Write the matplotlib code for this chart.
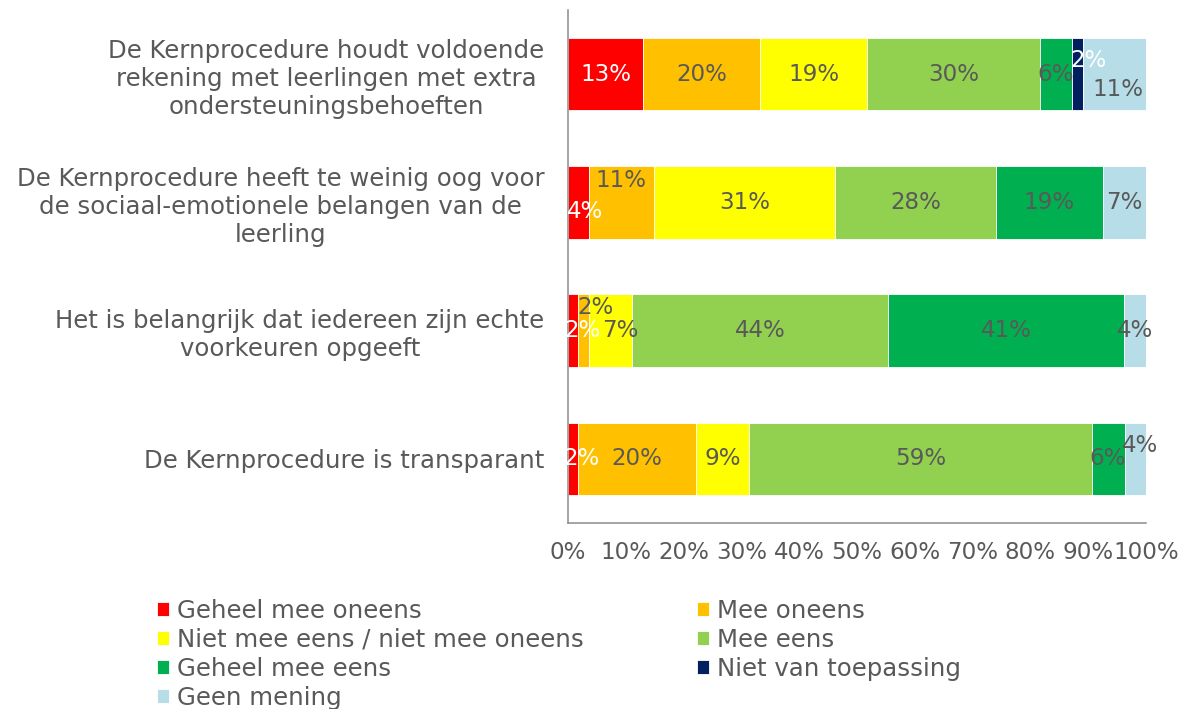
import matplotlib
matplotlib.use("Agg")
import matplotlib.pyplot as plt
import numpy as np

# ---------------- data ----------------
categories = [
    "De Kernprocedure houdt voldoende\nrekening met leerlingen met extra\nondersteuningsbehoeften",
    "De Kernprocedure heeft te weinig oog voor\nde sociaal-emotionele belangen van de\nleerling",
    "Het is belangrijk dat iedereen zijn echte\nvoorkeuren opgeeft",
    "De Kernprocedure is transparant",
]
series_names = [
    "Geheel mee oneens",
    "Mee oneens",
    "Niet mee eens / niet mee oneens",
    "Mee eens",
    "Geheel mee eens",
    "Niet van toepassing",
    "Geen mening",
]
geheel_oneens = [13.0, 3.6, 1.7, 1.7]
mee_oneens = [20.2, 11.2, 2.0, 20.4]
neutraal = [18.6, 31.4, 7.3, 9.3]
mee_eens = [29.8, 27.8, 44.4, 59.2]
geheel_eens = [5.6, 18.6, 40.8, 5.7]
niet_van_toepassing = [1.9, 0.0, 0.0, 0.0]
geen_mening = [10.9, 7.4, 3.8, 3.7]
series_values = [geheel_oneens, mee_oneens, neutraal, mee_eens,
                 geheel_eens, niet_van_toepassing, geen_mening]
xticks = [0, 10, 20, 30, 40, 50, 60, 70, 80, 90, 100]

# ---------------- style ----------------
colors = ["#FF0000", "#FFC000", "#FFFF00", "#92D050", "#00B050", "#002060", "#B7DEE8"]
label_colors = ["white", "#595959", "#595959", "#595959", "#595959", "white", "#595959"]
txt = "#595959"
fs_num = 16.6
fs_txt = 17.6
# label offsets in pixels (series index, row index) -> (dx, dy)
offsets = {
    (5, 0): (11, 14), (6, 0): (3, -15),
    (0, 1): (7, -9), (1, 1): (0, 22),
    (0, 2): (10, 0), (1, 2): (12, 23), (2, 2): (10, 0),
    (0, 3): (9, 0), (6, 3): (5, 13),
}

plt.rcParams['font.family'] = ['DejaVu Sans']
fig = plt.figure(figsize=(11.9, 7.09), dpi=100)
ax = fig.add_axes([0.4773, 0.2623, 0.4857, 0.7236])

y = np.arange(len(categories))
left = np.zeros(len(categories))
handles = []
for si, (name, vals) in enumerate(zip(series_names, series_values)):
    vals = np.array(vals)
    bars = ax.barh(y, vals, left=left, height=0.566, color=colors[si],
                   edgecolor="white", linewidth=0.6, label=name)
    handles.append(bars)
    for ri, v in enumerate(vals):
        if v <= 0:
            continue
        dx, dy = offsets.get((si, ri), (0, 0))
        ax.annotate(f"{v:.0f}%", (left[ri] + v / 2, y[ri]),
                    xytext=(dx, dy), textcoords="offset pixels",
                    ha="center", va="center", fontsize=fs_num, color=label_colors[si])
    left = left + vals

ax.set_ylim(len(categories) - 0.5, -0.5)
ax.set_xlim(0, 100)
ax.set_yticks(y)
ax.set_yticklabels(categories, multialignment="center", fontsize=fs_txt,
                   linespacing=1.22)
ax.set_xticks(xticks)
ax.set_xticklabels([f"{t}%" for t in xticks], fontsize=fs_num)
ax.tick_params(axis="both", length=0, labelcolor=txt)
ax.tick_params(axis="x", pad=13)
ax.tick_params(axis="y", pad=17)
for s in ["top", "right"]:
    ax.spines[s].set_visible(False)
for s in ["left", "bottom"]:
    ax.spines[s].set_color("#8c8c8c")
    ax.spines[s].set_linewidth(1.1)

order = [0, 2, 4, 6, 1, 3, 5]
leg = fig.legend([handles[i] for i in order], [series_names[i] for i in order],
                 loc="upper left", bbox_to_anchor=(0.132, 0.155), ncol=2,
                 frameon=False, fontsize=fs_txt, handlelength=0.5, handleheight=0.5,
                 handletextpad=0.3, labelspacing=0.2, columnspacing=4.65,
                 borderpad=0, borderaxespad=0)
for t in leg.get_texts():
    t.set_color(txt)

fig.savefig("out.png", dpi=100)
